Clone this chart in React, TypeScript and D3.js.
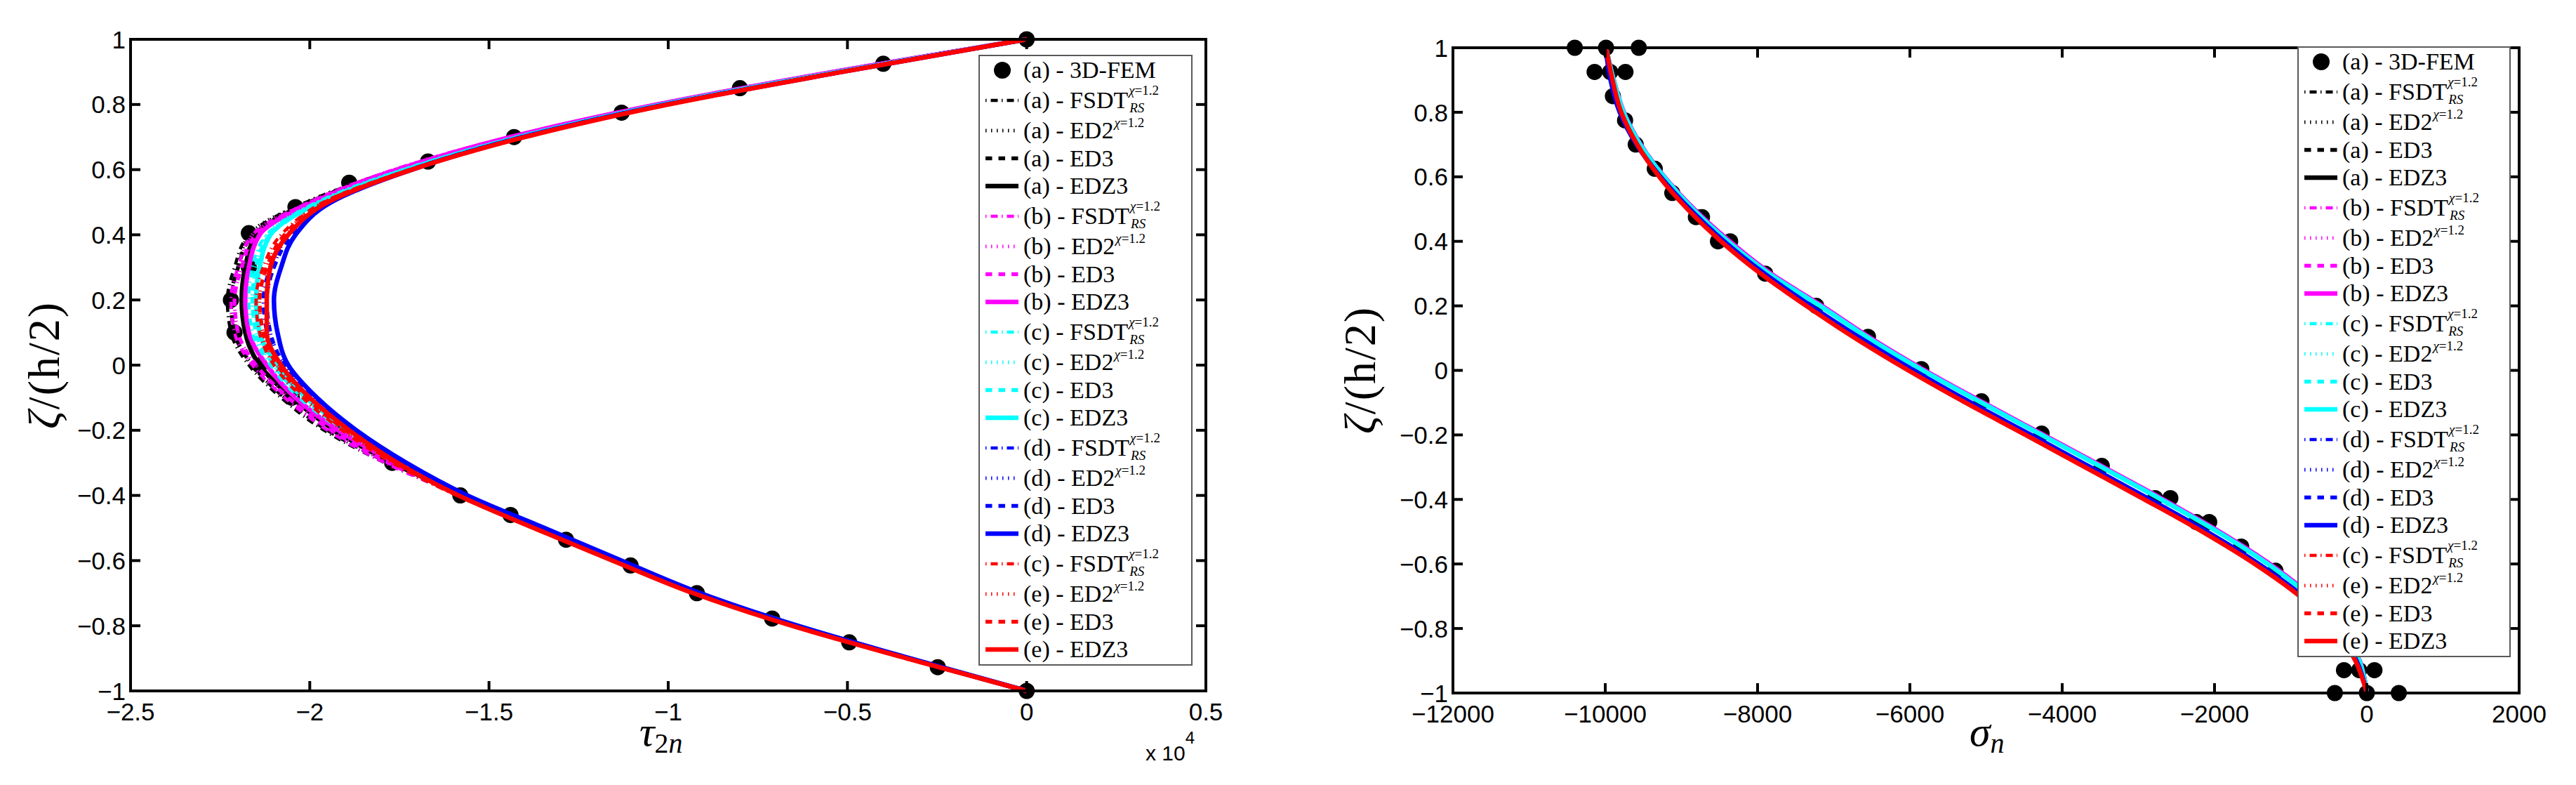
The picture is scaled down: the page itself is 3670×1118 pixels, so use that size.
import React from "react";
import * as d3 from "d3";

const W = 3670;
const H = 1118;

// ---------------- shared axis data ----------------
const ZETA = [-1, -0.9, -0.8, -0.7, -0.6, -0.5, -0.4, -0.3, -0.2, -0.1, 0, 0.1, 0.2, 0.3, 0.4, 0.5, 0.6, 0.7, 0.8, 0.9, 1];
const Y_TICKS = [-1, -0.8, -0.6, -0.4, -0.2, 0, 0.2, 0.4, 0.6, 0.8, 1];
const Y_LABELS = ["\u22121", "\u22120.8", "\u22120.6", "\u22120.4", "\u22120.2", "0", "0.2", "0.4", "0.6", "0.8", "1"];
const LEFT_X_TICKS = [-2.5, -2, -1.5, -1, -0.5, 0, 0.5];
const LEFT_X_LABELS = ["\u22122.5", "\u22122", "\u22121.5", "\u22121", "\u22120.5", "0", "0.5"];
const RIGHT_X_TICKS = [-12000, -10000, -8000, -6000, -4000, -2000, 0, 2000];
const RIGHT_X_LABELS = ["\u221212000", "\u221210000", "\u22128000", "\u22126000", "\u22124000", "\u22122000", "0", "2000"];

// ---------------- left panel: tau_2n (x 10^4) ----------------
const L_A_FSDT = [0, -0.33, -0.645, -0.92, -1.14, -1.36, -1.58, -1.79, -1.96, -2.08, -2.17, -2.22, -2.23, -2.21, -2.17, -2.01, -1.76, -1.44, -1.03, -0.54, 0];
const L_A_ED2 = [0, -0.33, -0.645, -0.92, -1.14, -1.36, -1.58, -1.78, -1.95, -2.07, -2.16, -2.21, -2.22, -2.2, -2.17, -2.01, -1.76, -1.44, -1.03, -0.54, 0];
const L_A_ED3 = [0, -0.33, -0.645, -0.92, -1.14, -1.36, -1.575, -1.78, -1.95, -2.07, -2.16, -2.21, -2.22, -2.2, -2.16, -2.0, -1.755, -1.44, -1.03, -0.54, 0];
const L_A_EDZ3 = [0, -0.33, -0.64, -0.915, -1.135, -1.355, -1.57, -1.77, -1.93, -2.05, -2.14, -2.18, -2.19, -2.18, -2.15, -2.0, -1.75, -1.435, -1.025, -0.535, 0];
const L_B_FSDT = [0, -0.33, -0.645, -0.92, -1.14, -1.36, -1.58, -1.79, -1.95, -2.07, -2.16, -2.21, -2.22, -2.2, -2.16, -2.0, -1.765, -1.445, -1.035, -0.545, 0];
const L_B_ED2 = [0, -0.33, -0.645, -0.92, -1.14, -1.36, -1.575, -1.78, -1.94, -2.06, -2.15, -2.2, -2.21, -2.19, -2.16, -2.0, -1.765, -1.445, -1.035, -0.545, 0];
const L_B_ED3 = [0, -0.33, -0.645, -0.92, -1.14, -1.36, -1.575, -1.78, -1.94, -2.06, -2.15, -2.2, -2.21, -2.19, -2.15, -2.0, -1.76, -1.44, -1.03, -0.54, 0];
const L_B_EDZ3 = [0, -0.33, -0.64, -0.915, -1.135, -1.355, -1.565, -1.76, -1.92, -2.04, -2.12, -2.17, -2.18, -2.17, -2.14, -1.99, -1.755, -1.44, -1.03, -0.54, 0];
const L_C_FSDT = [0, -0.33, -0.645, -0.92, -1.14, -1.36, -1.57, -1.76, -1.91, -2.03, -2.11, -2.16, -2.17, -2.16, -2.12, -1.98, -1.74, -1.42, -1.02, -0.53, 0];
const L_C_ED2 = [0, -0.33, -0.645, -0.92, -1.14, -1.36, -1.57, -1.75, -1.9, -2.02, -2.1, -2.15, -2.16, -2.15, -2.12, -1.98, -1.74, -1.42, -1.02, -0.53, 0];
const L_C_ED3 = [0, -0.33, -0.645, -0.92, -1.14, -1.36, -1.57, -1.75, -1.9, -2.02, -2.1, -2.15, -2.16, -2.15, -2.11, -1.97, -1.735, -1.42, -1.02, -0.53, 0];
const L_C_EDZ3 = [0, -0.33, -0.64, -0.915, -1.135, -1.355, -1.565, -1.74, -1.89, -2.01, -2.09, -2.14, -2.15, -2.14, -2.11, -1.97, -1.73, -1.415, -1.015, -0.525, 0];
const L_D_FSDT = [0, -0.325, -0.64, -0.915, -1.135, -1.35, -1.565, -1.74, -1.88, -2.0, -2.08, -2.12, -2.13, -2.11, -2.06, -1.95, -1.72, -1.41, -1.01, -0.52, 0];
const L_D_ED2 = [0, -0.325, -0.64, -0.915, -1.135, -1.35, -1.565, -1.74, -1.88, -1.99, -2.07, -2.11, -2.12, -2.1, -2.06, -1.95, -1.72, -1.41, -1.01, -0.52, 0];
const L_D_ED3 = [0, -0.325, -0.64, -0.915, -1.135, -1.35, -1.565, -1.74, -1.88, -1.99, -2.07, -2.11, -2.12, -2.1, -2.05, -1.95, -1.72, -1.41, -1.01, -0.52, 0];
const L_D_EDZ3 = [0, -0.325, -0.64, -0.91, -1.13, -1.345, -1.56, -1.73, -1.87, -1.98, -2.06, -2.09, -2.1, -2.08, -2.04, -1.94, -1.715, -1.405, -1.005, -0.515, 0];
const L_E_FSDT = [0, -0.335, -0.655, -0.93, -1.155, -1.375, -1.59, -1.77, -1.91, -2.02, -2.1, -2.14, -2.15, -2.13, -2.08, -1.96, -1.72, -1.405, -1.005, -0.52, 0];
const L_E_ED2 = [0, -0.335, -0.655, -0.93, -1.155, -1.375, -1.59, -1.76, -1.9, -2.01, -2.09, -2.13, -2.14, -2.12, -2.07, -1.96, -1.72, -1.4, -1.0, -0.515, 0];
const L_E_ED3 = [0, -0.335, -0.655, -0.93, -1.155, -1.375, -1.585, -1.76, -1.9, -2.01, -2.09, -2.13, -2.14, -2.12, -2.07, -1.96, -1.715, -1.4, -1.0, -0.515, 0];
const L_E_EDZ3 = [0, -0.335, -0.655, -0.93, -1.155, -1.375, -1.585, -1.755, -1.89, -2.0, -2.08, -2.12, -2.12, -2.11, -2.06, -1.95, -1.715, -1.4, -1.0, -0.515, 0];

const LEFT_FEM_Z = [1, 0.925, 0.85, 0.775, 0.7, 0.625, 0.56, 0.485, 0.405, 0.3, 0.2, 0.1, 0, -0.1, -0.2, -0.3, -0.4, -0.46, -0.536, -0.615, -0.7, -0.778, -0.851, -0.927, -1];
const LEFT_FEM_T = [0, -0.4, -0.8, -1.13, -1.43, -1.67, -1.89, -2.04, -2.17, -2.17, -2.22, -2.21, -2.14, -2.05, -1.91, -1.77, -1.58, -1.44, -1.285, -1.105, -0.92, -0.71, -0.495, -0.248, 0];

// ---------------- right panel: sigma_n ----------------
const R_A_FSDT = [0, -90, -325, -730, -1280, -1940, -2680, -3460, -4250, -5040, -5810, -6520, -7160, -7830, -8370, -8835, -9220, -9530, -9755, -9890, -9990];
const R_A_ED2 = [0, -95, -330, -735, -1285, -1945, -2685, -3465, -4255, -5045, -5815, -6525, -7165, -7835, -8375, -8840, -9225, -9535, -9755, -9890, -9990];
const R_A_ED3 = [0, -95, -330, -735, -1285, -1945, -2685, -3465, -4255, -5045, -5815, -6525, -7170, -7840, -8380, -8840, -9225, -9535, -9760, -9890, -9990];
const R_A_EDZ3 = [0, -100, -335, -740, -1290, -1950, -2690, -3470, -4260, -5050, -5820, -6530, -7170, -7840, -8380, -8845, -9230, -9540, -9760, -9890, -9990];
const R_B_FSDT = [0, -85, -315, -720, -1265, -1925, -2665, -3445, -4235, -5025, -5795, -6505, -7145, -7815, -8355, -8825, -9215, -9525, -9750, -9885, -9990];
const R_B_ED2 = [0, -90, -320, -725, -1270, -1930, -2670, -3450, -4240, -5030, -5800, -6510, -7150, -7820, -8360, -8830, -9220, -9530, -9755, -9890, -9990];
const R_B_ED3 = [0, -90, -320, -725, -1270, -1930, -2670, -3450, -4240, -5030, -5800, -6510, -7155, -7825, -8365, -8830, -9220, -9530, -9755, -9890, -9990];
const R_B_EDZ3 = [0, -95, -325, -730, -1275, -1935, -2675, -3455, -4245, -5035, -5805, -6515, -7155, -7825, -8365, -8835, -9225, -9535, -9755, -9890, -9990];
const R_C_FSDT = [0, -95, -335, -745, -1295, -1955, -2695, -3475, -4265, -5055, -5825, -6535, -7175, -7845, -8385, -8845, -9225, -9535, -9760, -9890, -9990];
const R_C_ED2 = [0, -100, -340, -750, -1300, -1960, -2700, -3480, -4270, -5060, -5830, -6540, -7180, -7850, -8390, -8850, -9230, -9540, -9760, -9890, -9990];
const R_C_ED3 = [0, -100, -340, -750, -1300, -1960, -2700, -3480, -4270, -5060, -5830, -6540, -7185, -7855, -8390, -8850, -9230, -9540, -9760, -9890, -9990];
const R_C_EDZ3 = [0, -100, -340, -750, -1300, -1960, -2700, -3480, -4270, -5060, -5830, -6540, -7180, -7850, -8390, -8850, -9230, -9540, -9760, -9890, -9990];
const R_D_FSDT = [0, -130, -395, -835, -1410, -2090, -2840, -3620, -4400, -5190, -5940, -6640, -7290, -7900, -8430, -8880, -9270, -9580, -9800, -9920, -9990];
const R_D_ED2 = [0, -130, -395, -835, -1415, -2095, -2845, -3625, -4405, -5195, -5945, -6645, -7295, -7905, -8435, -8885, -9270, -9585, -9805, -9925, -9990];
const R_D_ED3 = [0, -135, -400, -840, -1420, -2100, -2850, -3630, -4410, -5200, -5950, -6650, -7300, -7910, -8440, -8890, -9275, -9590, -9810, -9930, -9990];
const R_D_EDZ3 = [0, -135, -400, -840, -1420, -2100, -2850, -3630, -4410, -5200, -5950, -6650, -7300, -7910, -8440, -8890, -9275, -9590, -9810, -9930, -9995];
const R_E_FSDT = [0, -145, -425, -875, -1465, -2155, -2915, -3695, -4475, -5265, -6015, -6715, -7355, -7955, -8475, -8915, -9285, -9575, -9790, -9905, -9990];
const R_E_ED2 = [0, -150, -430, -880, -1470, -2160, -2920, -3700, -4480, -5270, -6020, -6720, -7360, -7960, -8480, -8920, -9290, -9580, -9790, -9905, -9990];
const R_E_ED3 = [0, -150, -430, -880, -1470, -2160, -2920, -3700, -4480, -5270, -6020, -6720, -7360, -7960, -8480, -8920, -9290, -9580, -9790, -9905, -9990];
const R_E_EDZ3 = [0, -150, -430, -880, -1470, -2160, -2920, -3700, -4480, -5270, -6020, -6720, -7360, -7960, -8480, -8920, -9290, -9580, -9790, -9905, -9990];

const RIGHT_FEM_Z = [1, 1, 1, 0.925, 0.925, 0.925, 0.85, 0.775, 0.7, 0.625, 0.55, 0.475, 0.475, 0.4, 0.4, 0.3, 0.2, 0.104, 0.004, -0.096, -0.196, -0.296, -0.396, -0.396, -0.47, -0.47, -0.546, -0.621, -0.7, -0.775, -0.85, -0.929, -0.929, -0.929, -1, -1, -1];
const RIGHT_FEM_S = [-10400, -9990, -9560, -10140, -9935, -9735, -9900, -9740, -9600, -9350, -9120, -8810, -8730, -8520, -8360, -7900, -7230, -6550, -5850, -5060, -4270, -3480, -2780, -2580, -2240, -2070, -1650, -1200, -780, -430, -200, -300, -100, 100, -420, 0, 420];

// ---------------- series meta ----------------
const CONFIG_COLORS = ["#000000", "#ff00ff", "#00ffff", "#0000ff", "#ff0000"];
const MODELS = ["FSDT", "ED2", "ED3", "EDZ3"];
const LEGEND_PREFIX = ["(a)", "(b)", "(c)", "(d)", "(e)"];
const FSDT_PREFIX = ["(a)", "(b)", "(c)", "(d)", "(c)"];

const LEFT_SERIES = [
  L_A_FSDT, L_A_ED2, L_A_ED3, L_A_EDZ3,
  L_B_FSDT, L_B_ED2, L_B_ED3, L_B_EDZ3,
  L_C_FSDT, L_C_ED2, L_C_ED3, L_C_EDZ3,
  L_D_FSDT, L_D_ED2, L_D_ED3, L_D_EDZ3,
  L_E_FSDT, L_E_ED2, L_E_ED3, L_E_EDZ3,
];
const RIGHT_SERIES = [
  R_A_FSDT, R_A_ED2, R_A_ED3, R_A_EDZ3,
  R_B_FSDT, R_B_ED2, R_B_ED3, R_B_EDZ3,
  R_C_FSDT, R_C_ED2, R_C_ED3, R_C_EDZ3,
  R_D_FSDT, R_D_ED2, R_D_ED3, R_D_EDZ3,
  R_E_FSDT, R_E_ED2, R_E_ED3, R_E_EDZ3,
];

const STYLE: Record<string, { w: number; dash: string | undefined }> = {
  FSDT: { w: 4.5, dash: "1.5 6 10 5.5" },
  ED2: { w: 5, dash: "1.5 6.5" },
  ED3: { w: 5.5, dash: "9.5 9" },
  EDZ3: { w: 6.5, dash: undefined },
};

const SANS = "'Liberation Sans', Arial, sans-serif";
const SERIF = "'Liberation Serif', 'Times New Roman', serif";

let measureCtx: CanvasRenderingContext2D | null = null;
function measure(text: string, font: string): number {
  if (!measureCtx) measureCtx = document.createElement("canvas").getContext("2d");
  if (!measureCtx) return text.length * 16;
  measureCtx.font = font;
  return measureCtx.measureText(text).width;
}

type PanelProps = {
  x0: number; x1: number; y0: number; y1: number;
  xDomain: [number, number];
  xTicks: number[]; xLabels: string[];
  series: number[][];
  femZ: number[]; femV: number[];
  legend: { x: number; y: number; w: number; h: number };
};

function Legend({ x, y, w, h }: { x: number; y: number; w: number; h: number }) {
  const rows: React.ReactNode[] = [];
  const fontMain = 34;
  const fontScript = 19;
  let cy = y + 21;
  const tx = x + 63;
  rows.push(
    <g key="fem">
      <circle cx={x + 33} cy={cy} r={12} fill="#000" />
      <text x={tx} y={cy + 11} fontFamily={SERIF} fontSize={fontMain}>(a) - 3D-FEM</text>
    </g>
  );
  const gaps = [43, 43, 39.5, 39.5];
  for (let c = 0; c < 5; c++) {
    for (let m = 0; m < 4; m++) {
      cy += gaps[m];
      const model = MODELS[m];
      const st = STYLE[model];
      const prefix = m === 0 ? FSDT_PREFIX[c] : LEGEND_PREFIX[c];
      const main = `${prefix} - ${model}`;
      const mw = measure(main, `${fontMain}px 'Liberation Serif'`);
      const supY = model === "FSDT" ? cy - 8 : cy - 5;
      rows.push(
        <g key={`${c}-${m}`}>
          <line x1={x + 9} x2={x + 56} y1={cy} y2={cy} stroke={CONFIG_COLORS[c]} strokeWidth={st.w} strokeDasharray={st.dash} />
          <text x={tx} y={cy + 11} fontFamily={SERIF} fontSize={fontMain}>{main}</text>
          {(model === "FSDT" || model === "ED2") && (
            <text x={tx + mw + 1} y={supY} fontFamily={SERIF} fontSize={fontScript}>
              <tspan fontStyle="italic">χ</tspan>=1.2
            </text>
          )}
          {model === "FSDT" && (
            <text x={tx + mw + 2} y={cy + 16.5} fontFamily={SERIF} fontSize={fontScript} fontStyle="italic">RS</text>
          )}
        </g>
      );
    }
  }
  return (
    <g>
      <rect x={x} y={y} width={w} height={h} fill="#fff" stroke="#5a5a5a" strokeWidth={2} />
      {rows}
    </g>
  );
}

function Panel(p: PanelProps) {
  const xs = d3.scaleLinear().domain(p.xDomain).range([p.x0, p.x1]);
  const ys = d3.scaleLinear().domain([-1, 1]).range([p.y1, p.y0]);
  const line = d3
    .line<[number, number]>()
    .x((d) => xs(d[0]))
    .y((d) => ys(d[1]))
    .curve(d3.curveMonotoneY);
  const tl = 14;
  return (
    <g>
      {p.femZ.map((z, i) => (
        <circle key={`f${i}`} cx={xs(p.femV[i])} cy={ys(z)} r={11.5} fill="#000" />
      ))}
      {p.series.map((vals, i) => {
        const c = Math.floor(i / 4);
        const model = MODELS[i % 4];
        const st = STYLE[model];
        const pts: [number, number][] = vals.map((v, k) => [v, ZETA[k]]);
        return (
          <path
            key={`s${i}`}
            d={line(pts) || ""}
            fill="none"
            stroke={CONFIG_COLORS[c]}
            strokeWidth={st.w}
            strokeDasharray={st.dash}
          />
        );
      })}
      <rect x={p.x0} y={p.y0} width={p.x1 - p.x0} height={p.y1 - p.y0} fill="none" stroke="#000" strokeWidth={4} />
      {p.xTicks.map((t, i) => (
        <g key={`xt${i}`}>
          <line x1={xs(t)} x2={xs(t)} y1={p.y1} y2={p.y1 - tl} stroke="#000" strokeWidth={4} />
          <line x1={xs(t)} x2={xs(t)} y1={p.y0} y2={p.y0 + tl} stroke="#000" strokeWidth={4} />
          <text x={xs(t)} y={p.y1 + 42} textAnchor="middle" fontFamily={SANS} fontSize={35}>{p.xLabels[i]}</text>
        </g>
      ))}
      {Y_TICKS.map((t, i) => (
        <g key={`yt${i}`}>
          <line x1={p.x0} x2={p.x0 + tl} y1={ys(t)} y2={ys(t)} stroke="#000" strokeWidth={4} />
          <line x1={p.x1} x2={p.x1 - tl} y1={ys(t)} y2={ys(t)} stroke="#000" strokeWidth={4} />
          <text x={p.x0 - 7} y={ys(t)} dy="0.36em" textAnchor="end" fontFamily={SANS} fontSize={35}>{Y_LABELS[i]}</text>
        </g>
      ))}
      <Legend {...p.legend} />
    </g>
  );
}

export default function App() {
  return (
    <svg
      width={W}
      height={H}
      viewBox={`0 0 ${W} ${H}`}
      style={{ position: "absolute", left: 0, top: 0, background: "#fff" }}
      xmlns="http://www.w3.org/2000/svg"
    >
      <rect x={0} y={0} width={W} height={H} fill="#fff" />
      <Panel
        x0={186} x1={1718} y0={56} y1={984}
        xDomain={[-2.5, 0.5]}
        xTicks={LEFT_X_TICKS} xLabels={LEFT_X_LABELS}
        series={LEFT_SERIES}
        femZ={LEFT_FEM_Z} femV={LEFT_FEM_T}
        legend={{ x: 1395, y: 79, w: 303, h: 868 }}
      />
      <Panel
        x0={2070} x1={3589} y0={68} y1={987}
        xDomain={[-12000, 2000]}
        xTicks={RIGHT_X_TICKS} xLabels={RIGHT_X_LABELS}
        series={RIGHT_SERIES}
        femZ={RIGHT_FEM_Z} femV={RIGHT_FEM_S}
        legend={{ x: 3274, y: 67, w: 302, h: 868 }}
      />
      <text transform="translate(84,520) rotate(-90)" textAnchor="middle" fontFamily={SERIF} fontSize={64} letterSpacing={2}>
        <tspan fontStyle="italic">ζ</tspan>/(h/2)
      </text>
      <text transform="translate(1959,527) rotate(-90)" textAnchor="middle" fontFamily={SERIF} fontSize={64} letterSpacing={2}>
        <tspan fontStyle="italic">ζ</tspan>/(h/2)
      </text>
      <text x={911} y={1062} fontFamily={SERIF} fontSize={60}>
        <tspan fontStyle="italic">τ</tspan>
        <tspan fontSize={40} dy={10}>2</tspan>
        <tspan fontSize={40} fontStyle="italic">n</tspan>
      </text>
      <text x={2806} y={1062} fontFamily={SERIF} fontSize={60}>
        <tspan fontStyle="italic">σ</tspan>
        <tspan fontSize={40} dy={10} fontStyle="italic">n</tspan>
      </text>
      <text x={1632} y={1083} fontFamily={SANS} fontSize={30}>
        x 10<tspan fontSize={24} dy={-24}>4</tspan>
      </text>
    </svg>
  );
}
